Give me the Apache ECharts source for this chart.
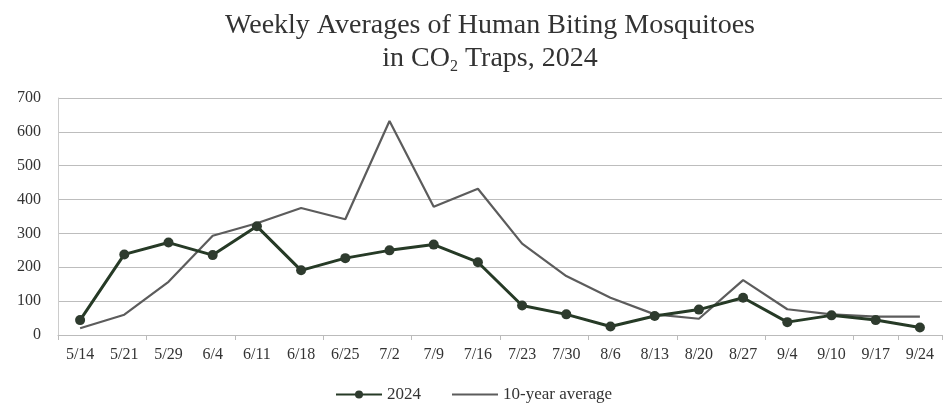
<!DOCTYPE html>
<html><head><meta charset="utf-8">
<script src="https://cdn.jsdelivr.net/npm/echarts@6/dist/echarts.min.js"></script>
<style>html,body{margin:0;padding:0;background:#fff}#c{width:947px;height:411px}</style>
</head><body><div id="c"></div>
<script>
var categories = ['5/14','5/21','5/29','6/4','6/11','6/18','6/25','7/2','7/9','7/16','7/23','7/30','8/6','8/13','8/20','8/27','9/4','9/10','9/17','9/24'];
var values2024 = [44,238,273,236,321,191,227,250,267,215,87,61,25,56,75,110,38,58,44,22];
var valuesAvg = [20,60,157,293,330,375,342,632,379,432,270,174,110,61,48,162,76,61,54,54];
var yTicks = [0,100,200,300,400,500,600,700];

var chart = echarts.init(document.getElementById('c'));
var ff = '"Liberation Serif", "DejaVu Serif", serif';
chart.setOption({
  backgroundColor:'#fff',
  animation:false,
  title:{
    text:'Weekly Averages of Human Biting Mosquitoes\nin CO{sub|2} Traps, 2024',
    left:485, textAlign:'center', top:4,
    textStyle:{fontFamily:ff,fontSize:28,fontWeight:'normal',color:'#333',lineHeight:33,
      rich:{sub:{fontFamily:ff,fontSize:16,color:'#333',verticalAlign:'bottom',padding:[11,0,0,0]}}}
  },
  grid:{left:58,right:5,top:98,bottom:76},
  legend:{
    bottom:3,left:'center',itemGap:30,itemWidth:46,itemHeight:10,
    textStyle:{fontFamily:ff,fontSize:17,color:'#333'},
    data:[{name:'2024'},{name:'10-year average',itemStyle:{opacity:0}}]
  },
  xAxis:{
    type:'category',data:categories,boundaryGap:true,
    axisLine:{lineStyle:{color:'#bbb'}},
    axisTick:{show:true,interval:1,length:5,lineStyle:{color:'#bbb'}},
    axisLabel:{fontFamily:ff,fontSize:16,color:'#333',margin:12,interval:0}
  },
  yAxis:{
    type:'value',min:yTicks[0],max:yTicks[yTicks.length-1],interval:100,
    axisLine:{show:true,lineStyle:{color:'#ccc'}},
    axisTick:{show:false},
    axisLabel:{fontFamily:ff,fontSize:16,color:'#333',margin:17},
    splitLine:{lineStyle:{color:'#bdbdbd'}}
  },
  series:[
    {name:'10-year average',type:'line',data:valuesAvg,symbol:'none',
     lineStyle:{color:'#5c5c5c',width:2.2},itemStyle:{color:'#5c5c5c'},z:2},
    {name:'2024',type:'line',data:values2024,symbol:'circle',symbolSize:10,
     lineStyle:{color:'#263a26',width:3},itemStyle:{color:'#2e3b2e'},z:3}
  ]
});
</script></body></html>
